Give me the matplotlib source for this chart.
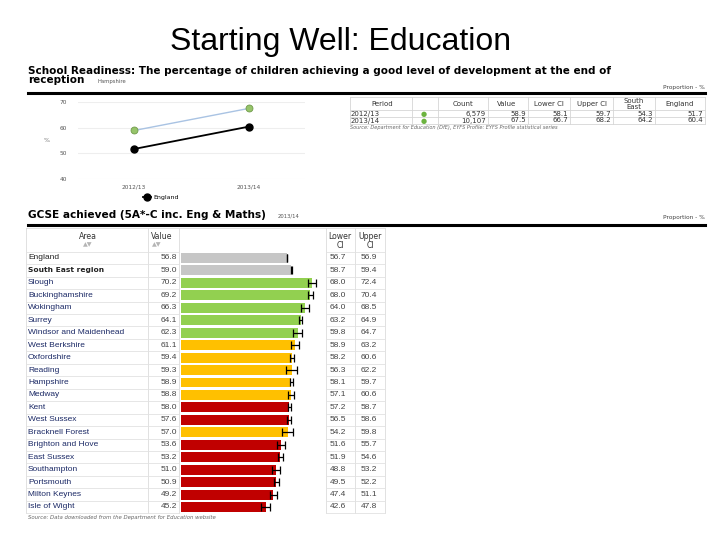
import matplotlib
matplotlib.use('Agg')
import matplotlib.pyplot as plt
from matplotlib.lines import Line2D
from matplotlib.transforms import blended_transform_factory

W, H = 720, 540

# School readiness (line chart + table)
periods = ['2012/13', '2013/14']
sr_value = [58.9, 67.5]
sr_england = [51.7, 60.4]
sr_count = ['6,579', '10,107']
sr_lower = [58.1, 66.7]
sr_upper = [59.7, 68.2]
sr_southeast = [54.3, 64.2]

# GCSE 5A*-C inc. Eng & Maths, 2013/14
areas = ['England', 'South East region', 'Slough', 'Buckinghamshire', 'Wokingham',
         'Surrey', 'Windsor and Maidenhead', 'West Berkshire', 'Oxfordshire', 'Reading',
         'Hampshire', 'Medway', 'Kent', 'West Sussex', 'Bracknell Forest',
         'Brighton and Hove', 'East Sussex', 'Southampton', 'Portsmouth',
         'Milton Keynes', 'Isle of Wight']
gcse = [56.8, 59.0, 70.2, 69.2, 66.3, 64.1, 62.3, 61.1, 59.4, 59.3, 58.9, 58.8,
        58.0, 57.6, 57.0, 53.6, 53.2, 51.0, 50.9, 49.2, 45.2]
gcse_lower = [56.7, 58.7, 68.0, 68.0, 64.0, 63.2, 59.8, 58.9, 58.2, 56.3, 58.1, 57.1,
              57.2, 56.5, 54.2, 51.6, 51.9, 48.8, 49.5, 47.4, 42.6]
gcse_upper = [56.9, 59.4, 72.4, 70.4, 68.5, 64.9, 64.7, 63.2, 60.6, 62.2, 59.7, 60.6,
              58.7, 58.6, 59.8, 55.7, 54.6, 53.2, 52.2, 51.1, 47.8]
# compared with South East: 'n' = benchmark, 'b' = better, 's' = similar, 'w' = worse
signif = ['n', 'n', 'b', 'b', 'b', 'b', 'b', 's', 's', 's', 's', 's',
          'w', 'w', 's', 'w', 'w', 'w', 'w', 'w', 'w']
colours = {'n': '#c6c6c6', 'b': '#92d050', 's': '#ffc000', 'w': '#c00000'}


def rect(x0, y0, x1, y1):
    return [x0 / W, 1 - y1 / H, (x1 - x0) / W, (y1 - y0) / H]


def ftext(x, y, s, **kw):
    kw.setdefault('va', 'center')
    return fig.text(x / W, 1 - y / H, s, **kw)


def fline(x0, x1, y0, y1, **kw):
    fig.add_artist(Line2D([x0 / W, x1 / W], [1 - y0 / H, 1 - y1 / H], **kw))


fig = plt.figure(figsize=(7.2, 5.4), dpi=100)
fig.patch.set_facecolor('white')

ftext(341, 42, 'Starting Well: Education', ha='center', fontsize=23,
      family='Liberation Sans')

# ---- school readiness ----
ftext(28, 71, 'School Readiness: The percentage of children achieving a good level of development at the end of',
      fontsize=7.5, fontweight='bold', family='DejaVu Sans')
ftext(28, 80, 'reception', fontsize=7.5, fontweight='bold', family='DejaVu Sans')
ftext(97, 81, 'Hampshire', fontsize=3.8, color='#555555')
ftext(705, 88, 'Proportion - %', fontsize=4.2, color='#444444', ha='right')
fline(28, 705, 93, 93, color='black', lw=2.2)

ax1 = fig.add_axes(rect(78, 102, 305, 179))
x = range(len(periods))
ax1.plot(x, sr_value, color='#a9c3e3', lw=1, marker='o', ms=5,
         mfc='#96c46a', mec='#6f9a4a', mew=0.6, zorder=3)
ax1.plot(x, sr_england, color='black', lw=1.3, marker='o', ms=5, label='England', zorder=3)
ax1.set_xlim(-0.49, 1.49)
ax1.set_ylim(40, 70)
ax1.set_yticks([40, 50, 60, 70])
ax1.set_xticks(list(x))
ax1.set_xticklabels(periods)
ax1.tick_params(length=0, labelsize=4.2, labelcolor='#555555', pad=8)
ax1.tick_params(axis='x', pad=4)
ax1.grid(axis='y', color='#eeeeee', lw=0.8)
ax1.set_axisbelow(True)
for s in ax1.spines.values():
    s.set_visible(False)
ftext(47, 140, '%', fontsize=4.5, color='#777777', ha='center')
ax1.legend(loc='center left', bbox_to_anchor=(143 / W, 1 - 197 / H),
           bbox_transform=fig.transFigure, frameon=False, fontsize=4.5,
           handlelength=1.2, handletextpad=0.4, borderaxespad=0, borderpad=0)

# summary table
cols = [350, 412, 438, 488, 528, 570, 613, 655, 705]
for cx in cols:
    fline(cx, cx, 97, 124, color='#d6d6d6', lw=0.6)
for cy in [97, 110, 117, 124]:
    fline(350, 705, cy, cy, color='#d6d6d6', lw=0.6)
tk = dict(fontsize=5, color='#333333', family='DejaVu Sans')
ftext(382, 104, 'Period', ha='center', **tk)
ftext(463, 104, 'Count', ha='center', **tk)
ftext(507, 104, 'Value', ha='center', **tk)
ftext(549, 104, 'Lower CI', ha='center', **tk)
ftext(592, 104, 'Upper CI', ha='center', **tk)
ftext(634, 104, 'South\nEast', ha='center', linespacing=0.85, **tk)
ftext(680, 104, 'England', ha='center', **tk)
for i, yy in enumerate([113.5, 120.5]):
    ftext(351, yy, periods[i], ha='left', **tk)
    ftext(424, yy, '\u25cf', ha='center', fontsize=5, color='#6cb33f')
    ftext(486, yy, sr_count[i], ha='right', **tk)
    ftext(526, yy, f'{sr_value[i]:.1f}', ha='right', **tk)
    ftext(568, yy, f'{sr_lower[i]:.1f}', ha='right', **tk)
    ftext(611, yy, f'{sr_upper[i]:.1f}', ha='right', **tk)
    ftext(653, yy, f'{sr_southeast[i]:.1f}', ha='right', **tk)
    ftext(703, yy, f'{sr_england[i]:.1f}', ha='right', **tk)
ftext(350, 127.5, 'Source: Department for Education (DfE), EYFS Profile: EYFS Profile statistical series',
      fontsize=3.6, color='#666666', style='italic')

# ---- GCSE ----
ftext(28, 215, 'GCSE achieved (5A*-C inc. Eng & Maths)', fontsize=7.6,
      fontweight='bold', family='DejaVu Sans')
ftext(278, 216, '2013/14', fontsize=3.8, color='#555555')
ftext(705, 218, 'Proportion - %', fontsize=4.2, color='#444444', ha='right')
fline(28, 705, 225, 225, color='black', lw=2.2)

n = len(areas)
pitch = 12.45
top = 258 - pitch / 2
bottom = top + n * pitch
ax2 = fig.add_axes(rect(181, top, 325, bottom))
ypos = list(range(n))
ax2.barh(ypos, gcse, height=0.8, color=[colours[s] for s in signif], zorder=2)
xerr = [[v - lo for v, lo in zip(gcse, gcse_lower)],
        [hi - v for v, hi in zip(gcse, gcse_upper)]]
ax2.errorbar(gcse, ypos, xerr=xerr, fmt='none', ecolor='black', elinewidth=0.9,
             capsize=2.8, capthick=0.9, zorder=3)
ax2.set_xlim(0, 144 / 1.87)
ax2.set_ylim(n - 0.5, -0.5)
ax2.axis('off')

# table grid
for cx in [26, 148, 179, 326, 355, 385]:
    fline(cx, cx, 228, bottom, color='#dcdcdc', lw=0.6)
fline(26, 385, 228, 228, color='#dcdcdc', lw=0.6)
for k in range(n + 1):
    yb = top + k * pitch
    fline(26, 179, yb, yb, color='#e2e2e2', lw=0.6)
    fline(326, 385, yb, yb, color='#e2e2e2', lw=0.6)

hk = dict(fontsize=5.6, color='#333333', family='DejaVu Sans')
ftext(88, 236, 'Area', ha='center', **hk)
ftext(88, 245, '\u25b2\u25bc', ha='center', fontsize=4.5, color='#b5b5b5')
ftext(151, 236, 'Value', ha='left', **hk)
ftext(157, 245, '\u25b2\u25bc', ha='center', fontsize=4.5, color='#b5b5b5')
ftext(340, 241, 'Lower\nCI', ha='center', linespacing=0.95, **hk)
ftext(370, 241, 'Upper\nCI', ha='center', linespacing=0.95, **hk)

tr = blended_transform_factory(fig.transFigure, ax2.transData)
for i, name in enumerate(areas):
    if i == 1:
        ax2.text(28 / W, i, name, transform=tr, va='center', fontsize=5.4,
                 fontweight='bold', color='#222222', family='DejaVu Sans')
    else:
        ax2.text(28 / W, i, name, transform=tr, va='center', fontsize=6,
                 color='#222222' if i == 0 else '#1c2a66', family='Liberation Sans')
    ax2.text(177 / W, i, f'{gcse[i]:.1f}', transform=tr, va='center', ha='right',
             fontsize=6, color='#444444', family='Liberation Sans')
    ax2.text(346 / W, i, f'{gcse_lower[i]:.1f}', transform=tr, va='center', ha='right',
             fontsize=6, color='#444444', family='Liberation Sans')
    ax2.text(377 / W, i, f'{gcse_upper[i]:.1f}', transform=tr, va='center', ha='right',
             fontsize=6, color='#444444', family='Liberation Sans')

ftext(28, 518, 'Source: Data downloaded from the Department for Education website',
      fontsize=3.9, color='#666666', style='italic')

fig.savefig('out.png', dpi=100, facecolor='white')
